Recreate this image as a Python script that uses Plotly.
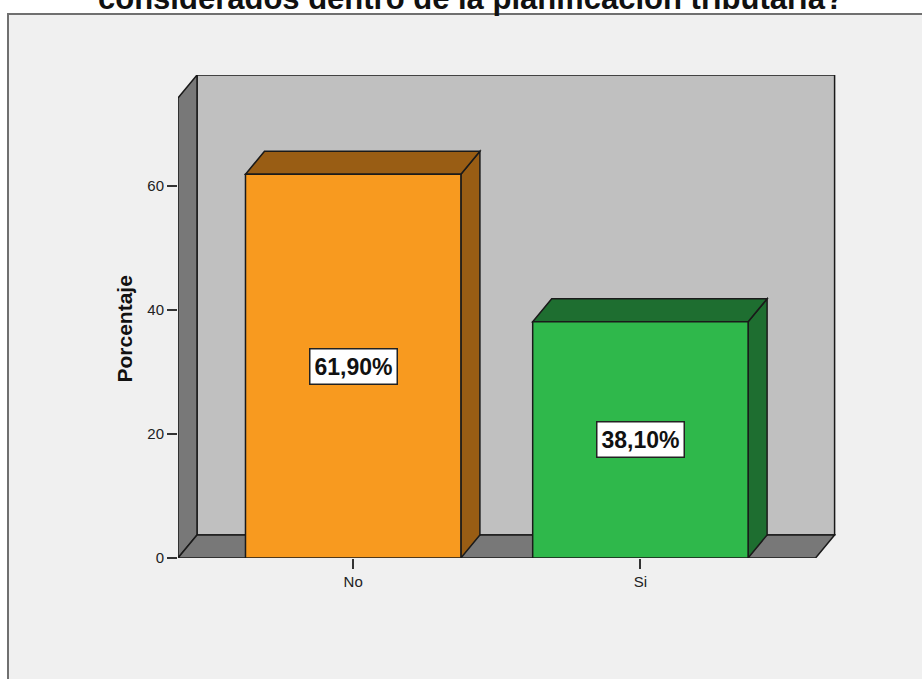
import plotly.graph_objects as go

# ---- data ----
categories = ["No", "Si"]
values = [61.9, 38.1]
value_labels = ["61,90%", "38,10%"]
front_colors = ["#f89a1f", "#2fb84b"]
depth_colors = ["#995d14", "#1e6e30"]
y_ticks = [0, 20, 40, 60]
title_text = "considerados dentro de la planificación tributaria?"
y_title = "Porcentaje"

# ---- geometry (in axis units) ----
xpos = list(range(len(categories)))
bar_w = 0.75
dx = 0.0662   # depth offset in x units
dy = 3.71     # depth offset in y units
x_lo, x_hi = -0.61, 1.61
y_top = 74.2
OUT = "#1a1a1a"

fig = go.Figure()
fig.add_trace(go.Bar(
    x=xpos, y=values, width=bar_w,
    marker=dict(color=front_colors, line=dict(color=OUT, width=1.5)),
    hoverinfo="skip", showlegend=False,
))

shapes = []
# outer frame
shapes.append(dict(type="rect", xref="paper", yref="paper",
                   x0=(8 - 178) / 658, x1=1.3, y0=(558 - 14) / 483, y1=-0.4,
                   fillcolor="#f0f0f0", line=dict(color="#707070", width=2), layer="below"))

def poly(pts, fill):
    p = "M " + " L ".join(f"{x},{y}" for x, y in pts) + " Z"
    return dict(type="path", xref="x", yref="y", path=p, fillcolor=fill,
                line=dict(color=OUT, width=1.5), layer="below")

# back wall
shapes.append(poly([(x_lo + dx, dy), (x_hi + dx, dy), (x_hi + dx, y_top + dy), (x_lo + dx, y_top + dy)], "#c0c0c0"))
# side wall
shapes.append(poly([(x_lo, 0), (x_lo, y_top), (x_lo + dx, y_top + dy), (x_lo + dx, dy)], "#787878"))
# floor
shapes.append(poly([(x_lo, 0), (x_hi, 0), (x_hi + dx, dy), (x_lo + dx, dy)], "#787878"))
# bar tops and sides
for c, v, col in zip(xpos, values, depth_colors):
    l, r = c - bar_w / 2, c + bar_w / 2
    shapes.append(poly([(r, 0), (r, v), (r + dx, v + dy), (r + dx, dy)], col))
    shapes.append(poly([(l, v), (r, v), (r + dx, v + dy), (l + dx, v + dy)], col))

annotations = []
for c, v, t in zip(xpos, values, value_labels):
    annotations.append(dict(x=c, y=v / 2, xref="x", yref="y", text=f"<b>{t}</b>", showarrow=False,
                            font=dict(family="Liberation Sans, Arial", size=23, color="#111"),
                            bgcolor="white", bordercolor="#222", borderwidth=1.5, borderpad=4))
annotations.append(dict(x=(471 - 178) / 658, y=(558 - 18) / 483, xref="paper", yref="paper",
                        text=f"<b>{title_text}</b>", showarrow=False, yanchor="bottom",
                        xanchor="center",
                        font=dict(family="Liberation Sans, Arial", size=31, color="#111")))
annotations.append(dict(x=(124 - 178) / 658, y=(558 - 329.5) / 483, xref="paper", yref="paper",
                        text=f"<b>{y_title}</b>", showarrow=False, textangle=-90,
                        xanchor="center", yanchor="middle",
                        font=dict(family="Liberation Sans, Arial", size=21, color="#111")))

fig.update_layout(
    width=922, height=679,
    margin=dict(l=178, r=86, t=75, b=121, autoexpand=False),
    paper_bgcolor="white", plot_bgcolor="rgba(0,0,0,0)",
    shapes=shapes, annotations=annotations,
    xaxis=dict(range=[x_lo, x_lo + 658 / 287.2], tickvals=xpos, ticktext=categories,
               showgrid=False, zeroline=False, showline=False, ticks="outside",
               ticklen=10, tickcolor="#333", tickwidth=1.5,
               tickfont=dict(family="Liberation Sans, Arial", size=15, color="#222"),
               automargin=False, fixedrange=True),
    yaxis=dict(range=[0, y_top + dy], tickvals=y_ticks,
               showgrid=False, zeroline=False, showline=False, ticks="outside",
               ticklen=10, tickcolor="#333", tickwidth=1.5,
               tickfont=dict(family="Liberation Sans, Arial", size=15, color="#222"),
               automargin=False, fixedrange=True),
    showlegend=False,
)

fig.write_html("out.html", config={"displayModeBar": False})
